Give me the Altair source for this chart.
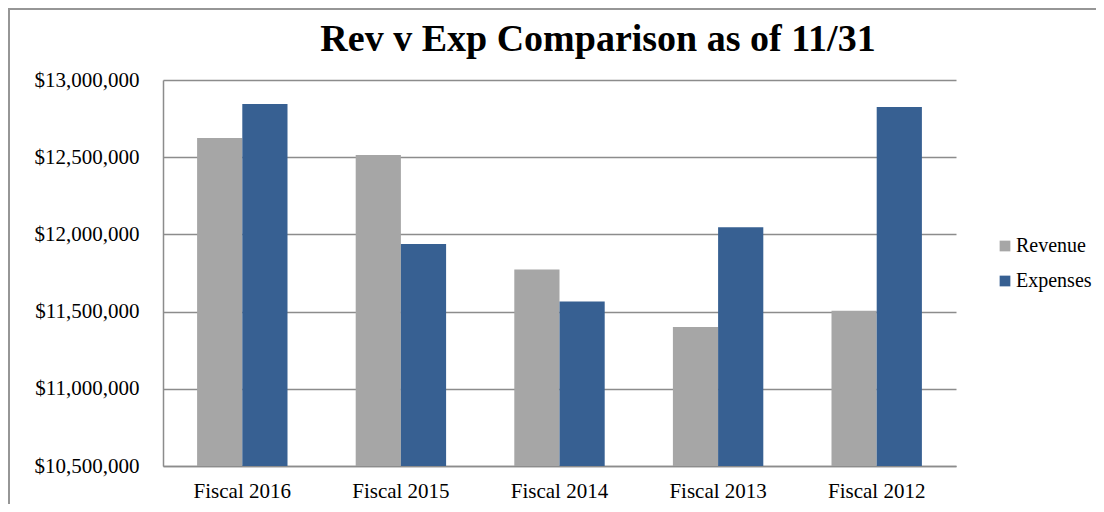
import altair as alt
import pandas as pd

categories = ["Fiscal 2016", "Fiscal 2015", "Fiscal 2014", "Fiscal 2013", "Fiscal 2012"]
revenue = [12625000, 12515000, 11772000, 11400000, 11505000]
expenses = [12845000, 11938000, 11565000, 12047000, 12825000]
series = ["Revenue", "Expenses"]
colors = ["#A6A6A6", "#376092"]
y_ticks = [10500000, 11000000, 11500000, 12000000, 12500000, 13000000]
title_text = "Rev v Exp Comparison as of 11/31"

rows = []
for c, r, e in zip(categories, revenue, expenses):
    rows.append({"Year": c, "Series": "Revenue", "Value": r})
    rows.append({"Year": c, "Series": "Expenses", "Value": e})
df = pd.DataFrame(rows)

FONT = "Liberation Serif"
GRID = "#8C8C8C"

bars = alt.Chart(df).mark_bar(clip=True).encode(
    x=alt.X("Year:N", sort=categories, title=None,
            scale=alt.Scale(paddingInner=0.43, paddingOuter=0.215),
            axis=alt.Axis(labelAngle=0, ticks=False, grid=False, labelPadding=14, domainColor=GRID,
                          domainWidth=1.5, labelFontSize=21, labelFont=FONT, labelColor="black")),
    xOffset=alt.XOffset("Series:N", sort=series),
    y=alt.Y("Value:Q", title=None,
            scale=alt.Scale(domain=[10500000, 13000000], zero=False, nice=False),
            axis=alt.Axis(values=y_ticks, format="$,.0f", ticks=False, labelPadding=24,
                          gridColor=GRID, gridWidth=1.5, domainColor=GRID, domainWidth=1.5,
                          labelFontSize=21, labelFont=FONT, labelColor="black")),
    color=alt.Color("Series:N", sort=series,
                    scale=alt.Scale(domain=series, range=colors),
                    legend=alt.Legend(title=None, orient="none", legendX=832, legendY=156,
                                      symbolType="square", symbolSize=115, symbolStrokeWidth=0,
                                      labelFontSize=20, labelFont=FONT, labelColor="black",
                                      labelOffset=1, rowPadding=15, padding=0)),
)

border = alt.Chart(pd.DataFrame({"k": [0]})).mark_rect(
    fill=None, stroke="#969696", strokeWidth=2
).encode(
    x=alt.value(-154), y=alt.value(-71), x2=alt.value(3000), y2=alt.value(3000)
)

title = alt.Chart(pd.DataFrame({"t": [title_text]})).mark_text(
    font=FONT, fontSize=38, fontWeight="bold", color="black",
    align="center", baseline="alphabetic"
).encode(text="t:N", x=alt.value(435), y=alt.value(-29))

chart = alt.layer(border, bars, title).properties(
    width=793, height=386,
    autosize=alt.AutoSizeParams(type="none"),
    padding={"left": 155, "top": 72, "right": 140, "bottom": 38},
    view=alt.ViewBackground(stroke="transparent", strokeWidth=0),
).configure_view(stroke="transparent", strokeWidth=0).configure(background="white")

chart.save("out.html", embed_options={"renderer": "svg", "actions": False})
